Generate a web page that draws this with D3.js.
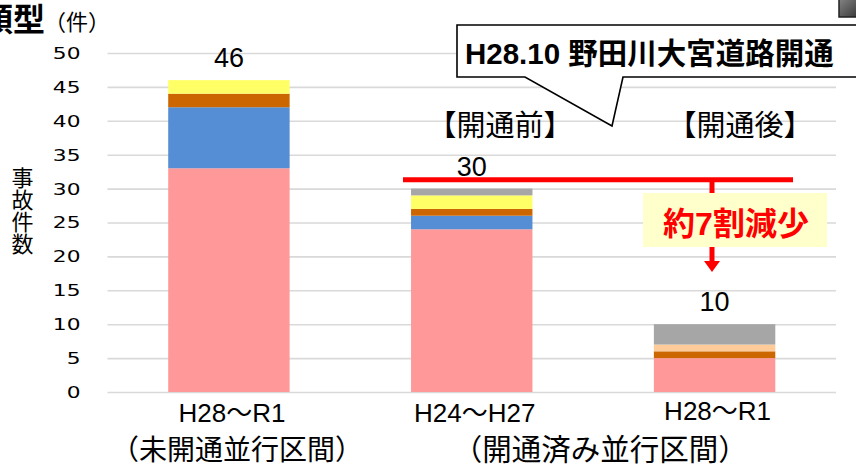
<!DOCTYPE html>
<html>
<head>
<meta charset="utf-8">
<script src="https://cdn.jsdelivr.net/npm/d3@7"></script>
<style>
  html, body { margin: 0; padding: 0; background: #fff; overflow: hidden; }
  svg { display: block; font-family: 'Liberation Sans', Arial, 'Noto Sans CJK JP', sans-serif; }
  .jp { font-family: 'Noto Sans CJK JP', sans-serif; }
</style>
</head>
<body>
<div id="chart"></div>
<script>
// data
var categories = ['H28～R1', 'H24～H27', 'H28～R1'];
var groupLabels = ['（未開通並行区間）', '（開通済み並行区間）'];
var seriesKeys = ['s1', 's2', 's3', 's4', 's5', 's6'];
var seriesColors = ['#FF9999', '#558ED5', '#CC6600', '#FFCC99', '#FFFF66', '#A6A6A6'];
var s1 = [33, 24, 5];
var s2 = [9, 2, 0];
var s3 = [2, 1, 1];
var s4 = [0, 0, 1];
var s5 = [2, 2, 0];
var s6 = [0, 1, 3];
var yTicks = [0, 5, 10, 15, 20, 25, 30, 35, 40, 45, 50];

var W = 856, H = 468;
var seriesValues = [s1, s2, s3, s4, s5, s6];
var rows = categories.map(function(c, i) {
  var r = { idx: i };
  seriesKeys.forEach(function(k, j) { r[k] = seriesValues[j][i]; });
  return r;
});

var svg = d3.select('#chart').append('svg').attr('width', W).attr('height', H);

var x = d3.scaleBand().domain(d3.range(categories.length)).range([107.5, 836])
  .paddingInner(0.5).paddingOuter(0.25);
var y = d3.scaleLinear().domain([0, 50]).range([392, 53]);

// gridlines + tick labels
var yAxisG = svg.append('g')
  .attr('transform', 'translate(107.5,0)')
  .call(d3.axisLeft(y).tickValues(yTicks).tickSize(-(836 - 107.5)).tickPadding(0));
yAxisG.select('.domain').remove();
yAxisG.selectAll('.tick line').attr('stroke', '#D9D9D9').attr('stroke-width', 1.6);
yAxisG.selectAll('.tick text')
  .attr('x', -27 / 1.45)
  .attr('dy', '0.36em')
  .attr('transform', 'scale(1.45,1)')
  .style('font-size', '15px')
  .style('font-family', "'DejaVu Sans', sans-serif")
  .attr('fill', '#000');

// stacked bars
var stacked = d3.stack().keys(seriesKeys)(rows);
svg.append('g').selectAll('g')
  .data(stacked)
  .enter().append('g')
    .attr('fill', function(d, i) { return seriesColors[i]; })
  .selectAll('rect')
  .data(function(d) { return d; })
  .enter().append('rect')
    .attr('x', function(d) { return x(d.data.idx); })
    .attr('y', function(d) { return y(d[1]); })
    .attr('height', function(d) { return y(d[0]) - y(d[1]); })
    .attr('width', x.bandwidth());

// totals
svg.append('g').selectAll('text')
  .data(rows)
  .enter().append('text')
    .attr('x', function(d) { return x(d.idx) + x.bandwidth() / 2; })
    .attr('y', function(d) { return y(d3.sum(seriesKeys, function(k) { return d[k]; })) - 13; })
    .attr('text-anchor', 'middle')
    .style('font-size', '27px')
    .text(function(d) { return d3.sum(seriesKeys, function(k) { return d[k]; }); });

// category labels
svg.append('g').selectAll('text')
  .data(categories)
  .enter().append('text')
    .attr('x', function(d, i) { return x(i) + x.bandwidth() / 2 + 3; })
    .attr('y', function(d, i) { return i === 2 ? 420 : 422; })
    .attr('text-anchor', 'middle')
    .style('font-size', '26px')
    .text(function(d) { return d; });

// group labels
var gx = [x(0) + x.bandwidth() / 2 + 8, (x(1) + x(2)) / 2 + x.bandwidth() / 2 + 7];
svg.append('g').selectAll('text')
  .data(groupLabels)
  .enter().append('text')
    .attr('class', 'jp')
    .attr('x', function(d, i) { return gx[i]; })
    .attr('y', 460)
    .attr('text-anchor', 'middle')
    .style('font-size', function(d, i) { return i === 0 ? '28px' : '29.5px'; })
    .text(function(d) { return d; });

// y axis title, upright vertical text
svg.append('text')
  .attr('class', 'jp')
  .attr('x', 22.5)
  .attr('y', 211)
  .attr('text-anchor', 'middle')
  .style('writing-mode', 'vertical-rl')
  .style('text-orientation', 'upright')
  .style('font-size', '22px')
  .text('事故件数');

// top-left title pieces (cut off)
svg.append('text').attr('class', 'jp').attr('x', 45).attr('y', 31).attr('text-anchor', 'end')
  .style('font-size', '32px').style('font-weight', 'bold').text('事故類型');
svg.append('text').attr('class', 'jp').attr('x', 44).attr('y', 30)
  .style('font-size', '22px').text('（件）');
svg.append('text').attr('class', 'jp').attr('x', -14).attr('y', 440)
  .style('font-size', '23px').text('）');

// top-right picture corner
var grad = svg.append('defs').append('linearGradient').attr('id', 'gr')
  .attr('x1', 0).attr('y1', 0).attr('x2', 1).attr('y2', 1);
grad.append('stop').attr('offset', 0).attr('stop-color', '#888');
grad.append('stop').attr('offset', 1).attr('stop-color', '#333');
svg.append('rect').attr('x', 839).attr('y', -3).attr('width', 22).attr('height', 20)
  .attr('fill', 'url(#gr)').attr('stroke', '#222').attr('stroke-width', 1.5);

// speech callout
svg.append('path')
  .attr('d', 'M457,25 H870 V77 H623 L612,126 L525,77 H457 Z')
  .attr('fill', '#fff').attr('stroke', '#000').attr('stroke-width', 1.6);
svg.append('text').attr('x', 465).attr('y', 64)
  .style('font-size', '29.5px').style('font-weight', 'bold')
  .text('H28.10 野田川大宮道路開通');

svg.append('text').attr('class', 'jp').attr('x', 500).attr('y', 136).attr('text-anchor', 'middle')
  .style('font-size', '29px').text('【開通前】');
svg.append('text').attr('class', 'jp').attr('x', 740).attr('y', 136).attr('text-anchor', 'middle')
  .style('font-size', '29px').text('【開通後】');

// red reduction marker
var redY = y(31.3);
svg.append('line').attr('x1', 403).attr('x2', 793).attr('y1', redY).attr('y2', redY)
  .attr('stroke', '#FF0000').attr('stroke-width', 5);
svg.append('line').attr('x1', 712).attr('x2', 712).attr('y1', redY).attr('y2', 194)
  .attr('stroke', '#FF0000').attr('stroke-width', 5);
svg.append('rect').attr('x', 643).attr('y', 193).attr('width', 184).attr('height', 54)
  .attr('fill', '#FFFFCC');
svg.append('text').attr('x', 736).attr('y', 235).attr('text-anchor', 'middle')
  .style('font-size', '32px').style('font-weight', 'bold').attr('fill', '#FF0000')
  .text('約7割減少');
svg.append('line').attr('x1', 712).attr('x2', 712).attr('y1', 247).attr('y2', 262)
  .attr('stroke', '#FF0000').attr('stroke-width', 5);
svg.append('path').attr('d', 'M704,261 L720,261 L712,272 Z').attr('fill', '#FF0000');
</script>
</body>
</html>
